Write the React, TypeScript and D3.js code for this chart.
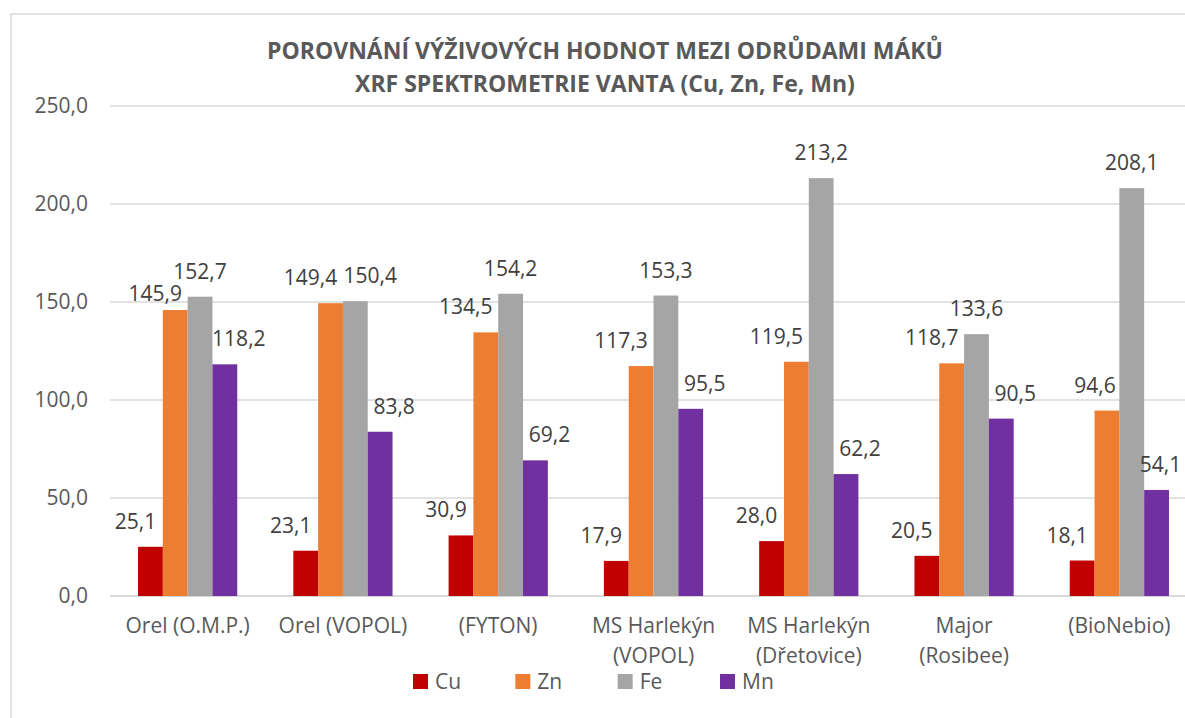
import React, { useEffect, useRef } from 'react';
import * as d3 from 'd3';

// varieties (x axis), split into label lines
const categories = [
  'Orel (O.M.P.)',
  'Orel (VOPOL)',
  '(FYTON)',
  'MS Harlekýn (VOPOL)',
  'MS Harlekýn (Dřetovice)',
  'Major (Rosibee)',
  '(BioNebio)',
];
const categoryLines = [
  ['Orel (O.M.P.)'],
  ['Orel (VOPOL)'],
  ['(FYTON)'],
  ['MS Harlekýn', '(VOPOL)'],
  ['MS Harlekýn', '(Dřetovice)'],
  ['Major', '(Rosibee)'],
  ['(BioNebio)'],
];

const seriesNames = ['Cu', 'Zn', 'Fe', 'Mn'];
const cuValues = [25.1, 23.1, 30.9, 17.9, 28.0, 20.5, 18.1];
const znValues = [145.9, 149.4, 134.5, 117.3, 119.5, 118.7, 94.6];
const feValues = [152.7, 150.4, 154.2, 153.3, 213.2, 133.6, 208.1];
const mnValues = [118.2, 83.8, 69.2, 95.5, 62.2, 90.5, 54.1];

const yTicks = [0, 50, 100, 150, 200, 250];

const titleLines = [
  'POROVNÁNÍ VÝŽIVOVÝCH HODNOT MEZI ODRŮDAMI MÁKŮ',
  'XRF SPEKTROMETRIE VANTA (Cu, Zn, Fe, Mn)',
];

const colors = ['#C00000', '#ED7D31', '#A5A5A5', '#7030A0'];

// data labels in the original are nudged sideways per series
const labelShift = [-15, -20, 0, 14];
const labelNudges = [
  { cat: 'Orel (O.M.P.)', series: 'Zn', dx: 0, dy: 9 },
  { cat: 'Orel (VOPOL)', series: 'Fe', dx: 15, dy: 0 },
  { cat: '(BioNebio)', series: 'Zn', dx: 8, dy: 0 },
  { cat: '(BioNebio)', series: 'Mn', dx: -10, dy: 0 },
];

const W = 1185;
const H = 718;
const FONT = '"Open Sans", "Noto Sans", sans-serif';
const fmt = (v: number) => v.toFixed(1).replace('.', ',');

const App: React.FC = () => {
  const svgRef = useRef<SVGSVGElement>(null);

  useEffect(() => {
    if (!svgRef.current) return;
    const svg = d3.select(svgRef.current);
    svg.selectAll('*').remove();

    const values = [cuValues, znValues, feValues, mnValues];
    const rows = categories.map((c, i) => ({
      cat: c,
      bars: seriesNames.map((s, j) => ({ cat: c, series: s, idx: j, value: values[j][i] })),
    }));

    const plot = { left: 110, right: 1197, top: 106, bottom: 596 };

    const x0 = d3.scaleBand().domain(categories).range([plot.left, plot.right]);
    const x1 = d3.scaleBand()
      .domain(seriesNames)
      .range([0, x0.bandwidth()])
      .paddingInner(0)
      .paddingOuter(1.13);
    const y = d3.scaleLinear().domain([0, 250]).range([plot.bottom, plot.top]);

    // chart frame
    svg.append('rect')
      .attr('x', 11)
      .attr('y', 14)
      .attr('width', W + 40)
      .attr('height', H + 40)
      .attr('fill', '#fff')
      .attr('stroke', '#d9d9d9')
      .attr('stroke-width', 1.5);

    // gridlines
    svg.append('g')
      .selectAll('line')
      .data(yTicks)
      .join('line')
      .attr('x1', plot.left)
      .attr('x2', W + 20)
      .attr('y1', d => y(d))
      .attr('y2', d => y(d))
      .attr('stroke', '#d9d9d9')
      .attr('stroke-width', d => (d === 0 ? 2 : 1.5));

    // y tick labels
    svg.append('g')
      .selectAll('text')
      .data(yTicks)
      .join('text')
      .attr('x', 88)
      .attr('y', d => y(d))
      .attr('dy', '0.35em')
      .attr('text-anchor', 'end')
      .attr('font-family', FONT)
      .attr('font-size', 21)
      .attr('fill', '#595959')
      .text(d => fmt(d));

    // bars
    const groups = svg.append('g')
      .selectAll('g')
      .data(rows)
      .join('g')
      .attr('transform', d => `translate(${x0(d.cat)},0)`);

    groups.selectAll('rect')
      .data(d => d.bars)
      .join('rect')
      .attr('x', d => x1(d.series) || 0)
      .attr('y', d => y(d.value))
      .attr('width', x1.bandwidth())
      .attr('height', d => y(0) - y(d.value))
      .attr('fill', d => colors[d.idx]);

    // data labels
    groups.selectAll('text')
      .data(d => d.bars)
      .join('text')
      .attr('x', d => {
        const n = labelNudges.find(l => l.cat === d.cat && l.series === d.series);
        return (x1(d.series) || 0) + x1.bandwidth() / 2 + labelShift[d.idx] + (n ? n.dx : 0);
      })
      .attr('y', d => {
        const n = labelNudges.find(l => l.cat === d.cat && l.series === d.series);
        return y(d.value) - 18 + (n ? n.dy : 0);
      })
      .attr('text-anchor', 'middle')
      .attr('font-family', FONT)
      .attr('font-size', 21)
      .attr('fill', '#404040')
      .text(d => fmt(d.value));

    // category labels
    const catText = svg.append('g')
      .selectAll('text')
      .data(categories)
      .join('text')
      .attr('x', d => (x0(d) || 0) + x0.bandwidth() / 2)
      .attr('y', 633)
      .attr('text-anchor', 'middle')
      .attr('font-family', FONT)
      .attr('font-size', 21)
      .attr('fill', '#595959');

    catText.selectAll('tspan')
      .data((d, i) => categoryLines[i])
      .join('tspan')
      .attr('x', function () {
        return (this.parentNode as SVGTextElement).getAttribute('x');
      })
      .attr('dy', (d, i) => (i === 0 ? 0 : 30))
      .text(d => d);

    // title
    svg.append('g')
      .selectAll('text')
      .data(titleLines)
      .join('text')
      .attr('x', 605)
      .attr('y', (d, i) => 59 + i * 33)
      .attr('text-anchor', 'middle')
      .attr('font-family', FONT)
      .attr('font-size', 23)
      .attr('font-weight', 'bold')
      .attr('fill', '#595959')
      .text(d => d);

    // legend
    const lx = d3.scalePoint().domain(seriesNames).range([413, 720]);
    const legend = svg.append('g')
      .selectAll('g')
      .data(seriesNames)
      .join('g')
      .attr('transform', d => `translate(${lx(d)},674)`);

    legend.append('rect')
      .attr('width', 15)
      .attr('height', 15)
      .attr('fill', (d, i) => colors[i]);

    legend.append('text')
      .attr('x', 22)
      .attr('y', 15)
      .attr('font-family', FONT)
      .attr('font-size', 21)
      .attr('fill', '#595959')
      .text(d => d);
  }, []);

  return (
    <svg
      ref={svgRef}
      width={W}
      height={H}
      style={{ position: 'absolute', left: 0, top: 0, background: '#fff' }}
    />
  );
};

export default App;
